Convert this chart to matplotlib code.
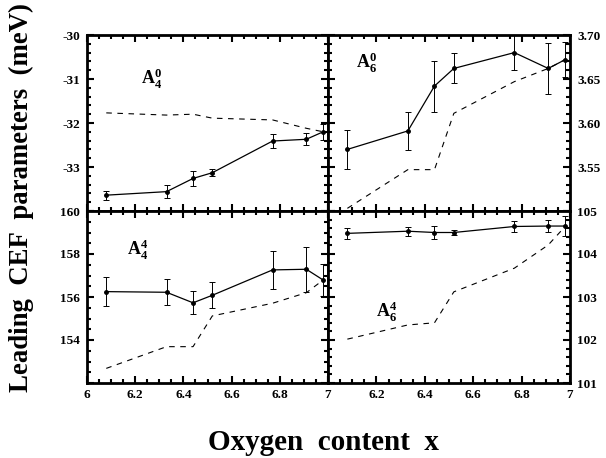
import matplotlib
matplotlib.use("Agg")
import matplotlib.pyplot as plt
from matplotlib.ticker import MultipleLocator

# ---- data ----
oxygen_x = [6.08, 6.33, 6.44, 6.52, 6.77, 6.91, 6.98]

a40_vals = [-33.64, -33.56, -33.26, -33.13, -32.41, -32.37, -32.20]
a40_errs = [0.10, 0.14, 0.18, 0.08, 0.15, 0.14, 0.18]
a40_calc = [-31.77, -31.82, -31.80, -31.89, -31.93, -32.12, -32.20]

a60_vals = [3.570, 3.591, 3.642, 3.662, 3.680, 3.662, 3.672]
a60_errs = [0.022, 0.022, 0.029, 0.017, 0.020, 0.029, 0.020]
a60_calc = [3.503, 3.547, 3.547, 3.611, 3.647, 3.662, 3.672]

a44_vals = [156.25, 156.22, 155.73, 156.08, 157.26, 157.29, 156.79]
a44_errs = [0.66, 0.60, 0.53, 0.60, 0.87, 1.05, 0.75]
a44_calc = [152.68, 153.69, 153.69, 155.12, 155.71, 156.20, 156.79]

a64_vals = [104.48, 104.53, 104.50, 104.50, 104.64, 104.65, 104.65]
a64_errs = [0.13, 0.10, 0.16, 0.06, 0.12, 0.13, 0.23]
a64_calc = [102.02, 102.35, 102.40, 103.12, 103.67, 104.21, 104.64]

x_ticks = [6, 6.2, 6.4, 6.6, 6.8, 7]
x_labels_left = ['6', '6.2', '6.4', '6.6', '6.8', '7']
x_labels_right = ['', '6.2', '6.4', '6.6', '6.8', '7']

tl_ticks = [-34, -33, -32, -31, -30]
tl_labels = ['', '-33', '-32', '-31', '-30']
tr_ticks = [3.50, 3.55, 3.60, 3.65, 3.70]
tr_labels = ['', '3.55', '3.60', '3.65', '3.70']
bl_ticks = [152, 154, 156, 158, 160]
bl_labels = ['', '154', '156', '158', '160']
br_ticks = [101, 102, 103, 104, 105]
br_labels = ['101', '102', '103', '104', '105']

# ---- style ----
plt.rcParams['font.family'] = ['Liberation Serif', 'DejaVu Serif']
plt.rcParams['font.weight'] = 'bold'
plt.rcParams['mathtext.fontset'] = 'custom'
plt.rcParams['mathtext.rm'] = 'Liberation Serif:bold'
plt.rcParams['mathtext.bf'] = 'Liberation Serif:bold'
plt.rcParams['mathtext.it'] = 'Liberation Serif:bold'

W, H = 606, 458
fig = plt.figure(figsize=(W / 100, H / 100), dpi=100)

def frac(l, t, r, b):
    return [l / W, 1 - b / H, (r - l) / W, (b - t) / H]

ax_tl = fig.add_axes(frac(87, 35, 328, 211))
ax_tr = fig.add_axes(frac(328, 35, 570, 211))
ax_bl = fig.add_axes(frac(87, 211, 328, 383))
ax_br = fig.add_axes(frac(328, 211, 570, 383))

panels = [
    (ax_tl, a40_vals, a40_errs, a40_calc, (-34, -30), tl_ticks, tl_labels, 0.2, 'left',
     r'$\mathrm{A}_4^0$', (6.27, -31.0)),
    (ax_tr, a60_vals, a60_errs, a60_calc, (3.50, 3.70), tr_ticks, tr_labels, 0.01, 'right',
     r'$\mathrm{A}_6^0$', (6.16, 3.668)),
    (ax_bl, a44_vals, a44_errs, a44_calc, (152, 160), bl_ticks, bl_labels, 0.5, 'left',
     r'$\mathrm{A}_4^4$', (6.21, 158.2)),
    (ax_br, a64_vals, a64_errs, a64_calc, (101, 105), br_ticks, br_labels, 0.2, 'right',
     r'$\mathrm{A}_6^4$', (6.24, 102.65)),
]

for ax, vals, errs, calc, ylim, yt, ylab, yminor, side, name, pos in panels:
    ax.errorbar(oxygen_x, vals, yerr=errs, fmt='-', color='black', lw=0.9,
                marker='o', ms=2.5, elinewidth=0.7, capsize=2.5, capthick=0.7)
    ax.plot(oxygen_x, calc, linestyle=(0, (5, 5)), color='black', lw=0.8)
    ax.set_xlim(6, 7)
    ax.set_ylim(*ylim)
    ax.set_xticks(x_ticks)
    ax.xaxis.set_minor_locator(MultipleLocator(0.05))
    ax.set_yticks(yt)
    ax.set_yticklabels(ylab)
    ax.yaxis.set_minor_locator(MultipleLocator(yminor))
    for sp in ax.spines.values():
        sp.set_linewidth(2.0)
    ax.tick_params(which='both', direction='in', top=True, bottom=True,
                   left=True, right=True, width=1.5, labelsize=9.5)
    ax.tick_params(which='major', length=5)
    ax.tick_params(which='minor', length=3)
    if side == 'left':
        ax.tick_params(labelleft=True, labelright=False, pad=5)
    else:
        ax.tick_params(labelleft=False, labelright=True, pad=5)
    ax.text(pos[0], pos[1], name, fontsize=13, ha='center', va='center')

for ax in (ax_tl, ax_tr):
    ax.tick_params(labelbottom=False)
ax_bl.set_xticklabels(x_labels_left)
ax_br.set_xticklabels(x_labels_right)
for ax in (ax_bl, ax_br):
    ax.tick_params(axis='x', pad=4)

fig.text(21 / W, 1 - 198 / H, 'Leading  CEF  parameters  (meV)', rotation=90,
         ha='center', va='center', fontsize=19.3, fontweight='bold')
fig.text(323 / W, 1 - 442 / H, 'Oxygen  content  x', ha='center', va='center',
         fontsize=21, fontweight='bold')

fig.savefig('out.png', dpi=100)
